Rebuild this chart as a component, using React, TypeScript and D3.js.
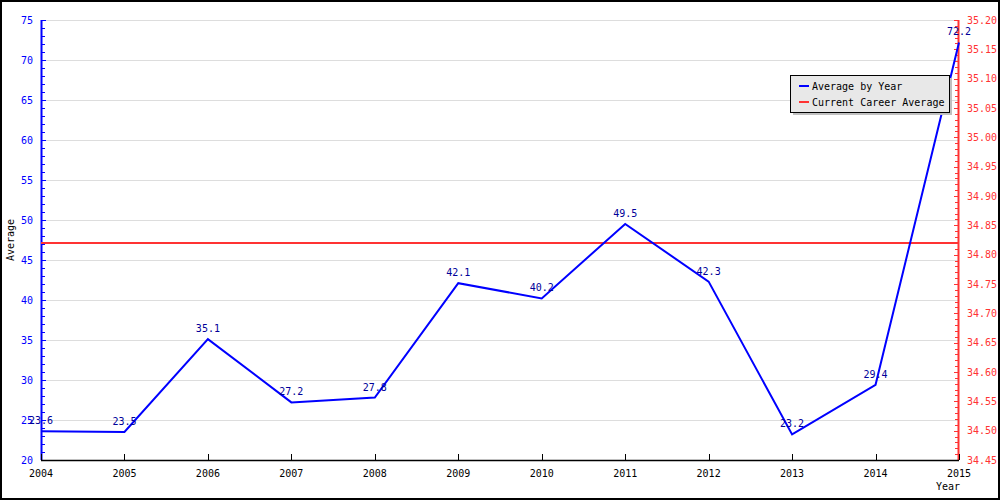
import React from "react";
import * as d3 from "d3";

const years = [2004, 2005, 2006, 2007, 2008, 2009, 2010, 2011, 2012, 2013, 2014, 2015];
const averages = [23.6, 23.5, 35.1, 27.2, 27.8, 42.1, 40.2, 49.5, 42.3, 23.2, 29.4, 72.2];
const careerAverage = 34.82;
const leftTicks = [20, 25, 30, 35, 40, 45, 50, 55, 60, 65, 70, 75];
const rightTicks = [34.45, 34.5, 34.55, 34.6, 34.65, 34.7, 34.75, 34.8, 34.85, 34.9, 34.95, 35.0, 35.05, 35.1, 35.15, 35.2];
const legendLabels = ["Average by Year", "Current Career Average"];

const W = 1000, H = 500;
const L = 41, R = 959, T = 20, B = 460;
const font = "'DejaVu Sans Mono', monospace";
const BLUE = "#0000ff";
const RED = "#ff3333";
const NAVY = "#000099";

export default function App() {
  const x = d3.scaleLinear().domain([2004, 2015]).range([L, R]);
  const yL = d3.scaleLinear().domain([20, 75]).range([B, T]);
  const yR = d3.scaleLinear().domain([34.45, 35.2]).range([B, T]);
  const line = d3.line<number>().x((_, i) => x(years[i])).y(d => yL(d));
  const minorL = d3.range(20, 75.001, 1);
  const minorR = d3.range(0, 76).map(i => 34.45 + i * 0.01);

  return (
    <svg width={W} height={H} style={{ display: "block", position: "absolute", left: 0, top: 0 }}>
      <rect x={0} y={0} width={W} height={H} fill="#fff" />
      <rect x={1} y={1} width={W - 2} height={H - 2} fill="none" stroke="#000" strokeWidth={2} />
      {leftTicks.slice(1).map(t => (
        <line key={"g" + t} x1={L} x2={R} y1={Math.round(yL(t)) + 0.5} y2={Math.round(yL(t)) + 0.5} stroke="#dddddd" strokeWidth={1} />
      ))}
      {/* left axis */}
      <line x1={L + 0.5} x2={L + 0.5} y1={T} y2={B} stroke={BLUE} strokeWidth={2} />
      {minorL.map(v => {
        const major = Math.abs(v % 5) < 1e-6;
        const yy = Math.round(yL(v)) + 0.5;
        return <line key={"ml" + v} x1={L} x2={L + (major ? 5 : 4)} y1={yy} y2={yy} stroke={BLUE} strokeWidth={1} />;
      })}
      {leftTicks.map(t => (
        <text key={"lt" + t} x={33} y={yL(t)} dy="0.35em" textAnchor="end" fill={BLUE} fontFamily={font} fontSize={10}>{t}</text>
      ))}
      {/* right axis */}
      <line x1={R - 0.5} x2={R - 0.5} y1={T} y2={B} stroke={RED} strokeWidth={2} />
      {minorR.map((v, i) => {
        const major = i % 5 === 0;
        const yy = Math.round(yR(v)) + 0.5;
        return <line key={"mr" + i} x1={R - (major ? 5 : 4)} x2={R} y1={yy} y2={yy} stroke={RED} strokeWidth={1} />;
      })}
      {rightTicks.map(t => (
        <text key={"rt" + t} x={967} y={yR(t)} dy="0.35em" textAnchor="start" fill={RED} fontFamily={font} fontSize={10}>{t.toFixed(2)}</text>
      ))}
      {/* x axis */}
      <line x1={L} x2={R} y1={B + 0.5} y2={B + 0.5} stroke="#000" strokeWidth={1.5} />
      {years.map(yr => (
        <g key={"x" + yr}>
          <line x1={Math.round(x(yr)) + 0.5} x2={Math.round(x(yr)) + 0.5} y1={B} y2={B - 6} stroke="#000" strokeWidth={1} />
          <text x={x(yr)} y={473} dy="0.35em" textAnchor="middle" fill="#000" fontFamily={font} fontSize={10}>{yr}</text>
        </g>
      ))}
      <text x={948} y={486} dy="0.35em" textAnchor="middle" fill="#000" fontFamily={font} fontSize={10}>Year</text>
      <text transform={`translate(10,240) rotate(-90)`} textAnchor="middle" dy="0.35em" fill="#000" fontFamily={font} fontSize={10}>Average</text>
      {/* career average */}
      <line x1={L} x2={R} y1={yR(careerAverage)} y2={yR(careerAverage)} stroke={RED} strokeWidth={2} />
      {/* average line */}
      <path d={line(averages) || ""} fill="none" stroke={BLUE} strokeWidth={2} />
      {averages.map((v, i) => (
        <text key={"dl" + i} x={x(years[i])} y={yL(v) - 7} textAnchor="middle" fill={NAVY} fontFamily={font} fontSize={10}>{v.toFixed(1)}</text>
      ))}
      {/* legend */}
      <rect x={793} y={78} width={159} height={37} fill="#c0c0c0" />
      <rect x={790.5} y={75.5} width={159} height={37} fill="#e8e8e8" stroke="#000" strokeWidth={1} />
      <line x1={799} x2={809} y1={86} y2={86} stroke={BLUE} strokeWidth={2} />
      <text x={812} y={86} dy="0.35em" fill="#000" fontFamily={font} fontSize={10}>{legendLabels[0]}</text>
      <line x1={799} x2={809} y1={102} y2={102} stroke={RED} strokeWidth={2} />
      <text x={812} y={102} dy="0.35em" fill="#000" fontFamily={font} fontSize={10}>{legendLabels[1]}</text>
    </svg>
  );
}
